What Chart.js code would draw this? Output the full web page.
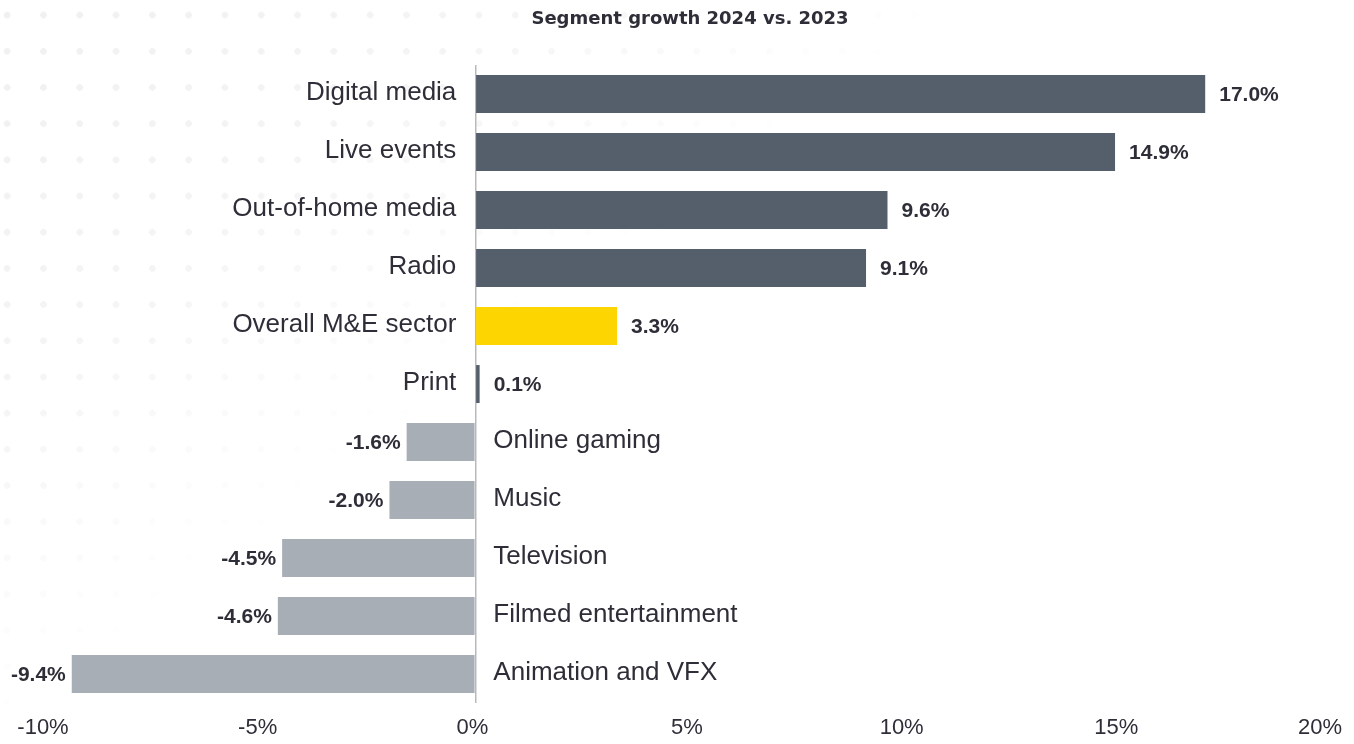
<!DOCTYPE html>
<html>
<head>
<meta charset="utf-8">
<script src="https://cdn.jsdelivr.net/npm/chart.js@4.4.1/dist/chart.umd.min.js"></script>
<style>
  body { margin: 0; background: #fff; }
  .wrap { position: relative; width: 1354px; height: 744px; }
  .dots {
    position: absolute; left: 0; top: 0; width: 1354px; height: 744px;
    background-image: radial-gradient(circle, #f0f0f0 3px, transparent 3.6px);
    background-size: 36.3px 36.2px;
    background-position: -11px -3px;
    -webkit-mask-image: linear-gradient(143deg, rgba(0,0,0,1) 0%, rgba(0,0,0,0.7) 22%, rgba(0,0,0,0) 42%);
    mask-image: linear-gradient(143deg, rgba(0,0,0,1) 0%, rgba(0,0,0,0.7) 22%, rgba(0,0,0,0) 42%);
  }
  canvas { position: absolute; left: 0; top: 0; }
</style>
</head>
<body>
<div class="wrap">
  <div class="dots"></div>
  <canvas class="chart" width="1354" height="744"></canvas>
</div>
<script>
const segments = [
  "Digital media",
  "Live events",
  "Out-of-home media",
  "Radio",
  "Overall M&E sector",
  "Print",
  "Online gaming",
  "Music",
  "Television",
  "Filmed entertainment",
  "Animation and VFX",
];
const growth = [17.0, 14.9, 9.6, 9.1, 3.3, 0.1, -1.6, -2.0, -4.5, -4.6, -9.4];
const xTicks = [-10, -5, 0, 5, 10, 15, 20];
const overallIdx = 4;

const textColor = "#2e2e38";
const barColors = growth.map((v, idx) => {
  if (idx === overallIdx) return "#fdd500";
  return v >= 0 ? "#555f6b" : "#a8aeb5";
});

// category names sit next to the zero line, values at the bar ends
const barLabels = {
  id: "barLabels",
  afterDatasetsDraw(chart) {
    const { ctx } = chart;
    const meta = chart.getDatasetMeta(0);
    const zero = chart.scales.x.getPixelForValue(0);
    ctx.save();
    ctx.textBaseline = "middle";
    meta.data.forEach((bar, idx) => {
      const v = growth[idx];
      const y = bar.y;
      ctx.fillStyle = textColor;
      ctx.font = "26px 'Liberation Sans', Arial, sans-serif";
      if (v >= 0) {
        ctx.textAlign = "right";
        ctx.fillText(segments[idx], zero - 19, y - 1);
      } else {
        ctx.textAlign = "left";
        ctx.fillText(segments[idx], zero + 18, y - 1);
      }
      ctx.font = "bold 21px 'Liberation Sans', Arial, sans-serif";
      const txt = v.toFixed(1) + "%";
      if (v >= 0) {
        ctx.textAlign = "left";
        ctx.fillText(txt, bar.x + 14, y + 1);
      } else {
        ctx.textAlign = "right";
        ctx.fillText(txt, bar.x - 6, y + 1);
      }
    });

    // x axis labels, kept inside the canvas
    const xs = chart.scales.x;
    ctx.font = "22px 'Liberation Sans', Arial, sans-serif";
    ctx.textAlign = "center";
    xTicks.forEach((t) => {
      const txt = t + "%";
      const w = ctx.measureText(txt).width;
      let x = xs.getPixelForValue(t) - 3;
      x = Math.min(x, chart.width - 12 - w / 2);
      x = Math.max(x, 10 + w / 2);
      ctx.fillText(txt, x, 728);
    });
    ctx.restore();
  },
};

const ctx = document.querySelector(".chart");
const myChart = new Chart(ctx, {
  type: "bar",
  data: {
    labels: segments,
    datasets: [
      {
        data: growth,
        backgroundColor: barColors,
        barPercentage: 0.655,
        categoryPercentage: 1,
      },
    ],
  },
  options: {
    indexAxis: "y",
    responsive: false,
    animation: false,
    layout: { padding: { left: 46, right: 20, bottom: 41, top: 0 } },
    plugins: {
      legend: { display: false },
      tooltip: { enabled: false },
      title: {
        display: true,
        text: "Segment growth 2024 vs. 2023",
        color: textColor,
        font: { family: "'DejaVu Sans', sans-serif", size: 18, weight: "bold" },
        padding: { top: 9, bottom: 34.5 },
      },
    },
    scales: {
      x: {
        min: -10,
        max: 20,
        ticks: { display: false, stepSize: 5 },
        grid: {
          color: (c) => (c.tick && c.tick.value === 0 ? "#b9b9bd" : "transparent"),
          lineWidth: 1.5,
          drawTicks: false,
        },
        border: { display: false },
      },
      y: { display: false },
    },
  },
  plugins: [barLabels],
});
</script>
</body>
</html>
